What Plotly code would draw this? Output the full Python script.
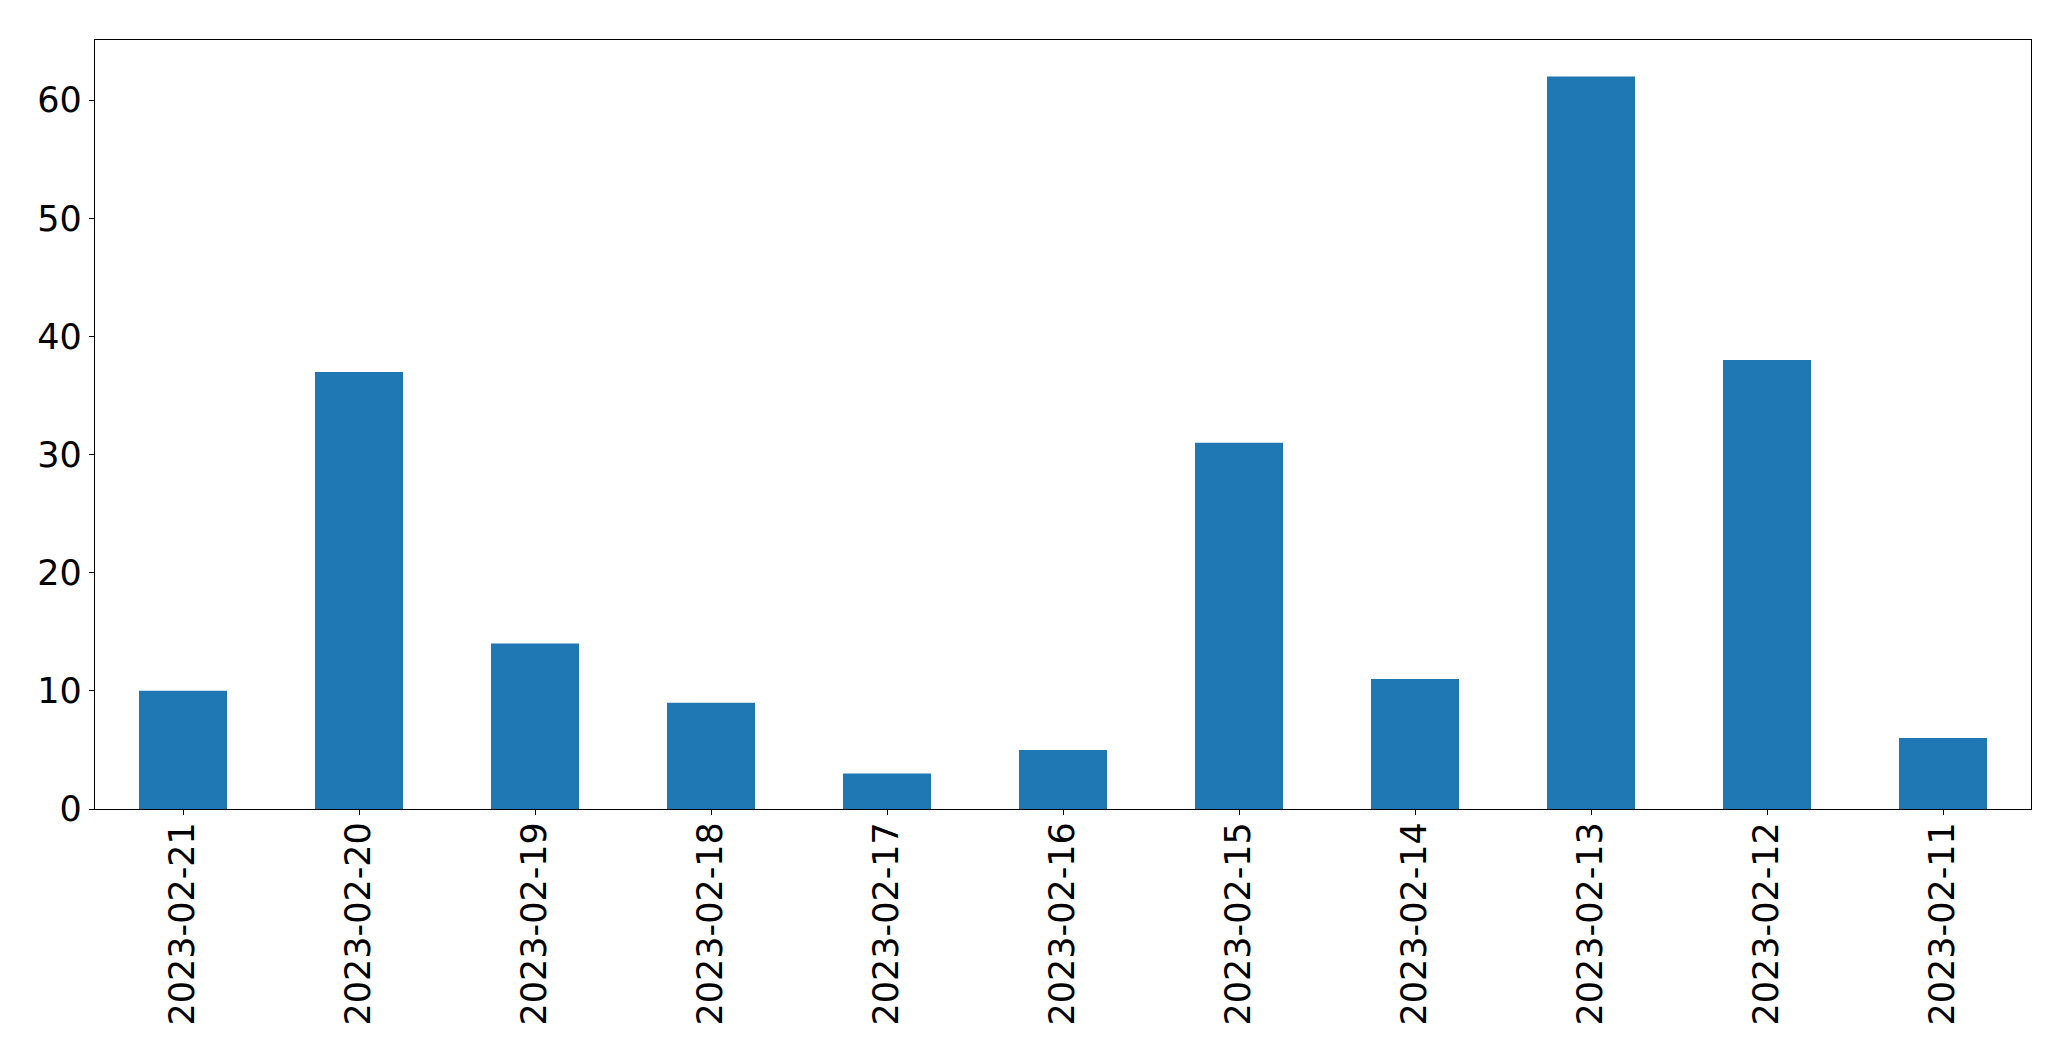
import plotly.graph_objects as go

dates = ["2023-02-21", "2023-02-20", "2023-02-19", "2023-02-18", "2023-02-17", "2023-02-16",
         "2023-02-15", "2023-02-14", "2023-02-13", "2023-02-12", "2023-02-11"]
counts = [10, 37, 14, 9, 3, 5, 31, 11, 62, 38, 6]
y_ticks = [0, 10, 20, 30, 40, 50, 60]

fig = go.Figure(go.Bar(x=dates, y=counts, marker=dict(color="#1f77b4", line=dict(width=0)), width=0.5))

fig.update_layout(
    width=2071, height=1061,
    margin=dict(l=94.5, r=39.5, t=39.5, b=252, pad=0),
    plot_bgcolor="white", paper_bgcolor="white",
    font=dict(family="DejaVu Sans", size=35, color="black"),
    showlegend=False,
    bargap=0.5,
)
fig.update_xaxes(type="category", range=[-0.5, 10.5], tickangle=-90,
                 showline=True, mirror=True, linecolor="black", linewidth=1.3,
                 ticks="outside", ticklen=5, tickwidth=1.3, tickcolor="black",
                 ticklabelstandoff=-7,
                 showgrid=False, zeroline=False)
fig.update_yaxes(range=[0, 65.1], tickvals=y_ticks,
                 showline=True, mirror=True, linecolor="black", linewidth=1.3,
                 ticks="outside", ticklen=5, tickwidth=1.3, tickcolor="black",
                 showgrid=False, zeroline=False)

fig.write_html("out.html", config={"displayModeBar": False},
               post_script="document.body.style.margin='0';document.body.style.overflow='hidden';")
